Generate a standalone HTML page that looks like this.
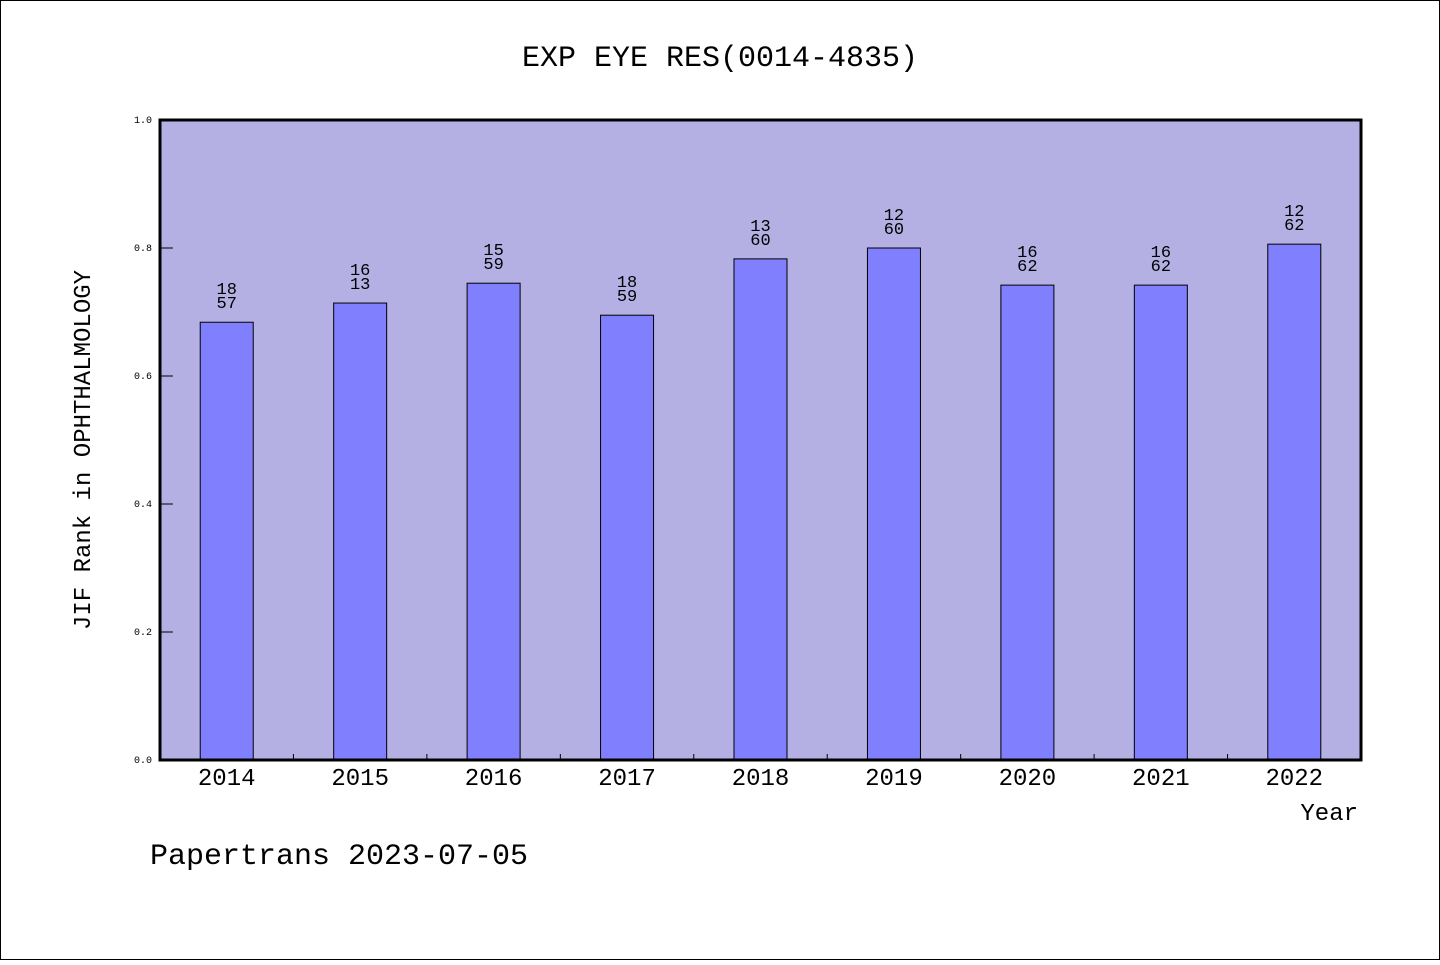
<!DOCTYPE html>
<html><head><meta charset="utf-8"><style>
body{margin:0;background:#fff;}
svg text{font-family:"WenQuanYi Zen Hei","Liberation Mono",monospace;fill:#000;}
</style></head><body>
<svg width="1440" height="960" xmlns="http://www.w3.org/2000/svg">
<rect x="0.5" y="0.5" width="1439" height="959" fill="#fff" stroke="#000"/>
<text x="720" y="66" font-size="30" text-anchor="middle">EXP EYE RES(0014-4835)</text>
<rect x="160" y="120" width="1201" height="640" fill="#b5b0e3"/>
<g id="yticks"></g>
<g id="bars"></g>
<rect x="160" y="120" width="1201" height="640" fill="none" stroke="#000" stroke-width="3"/>
<g id="xticks"></g>
<text x="90" y="450" font-size="24" text-anchor="middle" transform="rotate(-90 90 450)">JIF Rank in OPHTHALMOLOGY</text>
<text x="1358" y="820" font-size="24" text-anchor="end">Year</text>
<text x="150" y="864" font-size="30">Papertrans 2023-07-05</text>
</svg>
<script>
const years=["2014","2015","2016","2017","2018","2019","2020","2021","2022"];
const values=[0.684,0.714,0.745,0.695,0.783,0.800,0.742,0.742,0.806];
const rankTop=["18","16","15","18","13","12","16","16","12"];
const rankBottom=["57","13","59","59","60","60","62","62","62"];
const yTicks=[0,0.2,0.4,0.6,0.8,1.0];
const NS="http://www.w3.org/2000/svg";
const x0=160,x1=1361,y0=760,y1=120;
const band=(x1-x0)/years.length;
const yS=v=>y0-(v)*(y0-y1);
const xC=i=>x0+band*(i+0.5);
function mk(t,a,p){const e=document.createElementNS(NS,t);for(const k in a)e.setAttribute(k,a[k]);p.appendChild(e);return e;}
const yt=document.getElementById('yticks');
yTicks.forEach(v=>{
 const l=mk('line',{x1:160,x2:173,y1:yS(v),y2:yS(v),stroke:'#000'},yt);
 
 
 const t=mk('text',{x:152,y:yS(v)+3,'font-size':10,'text-anchor':'end'},yt);
 t.textContent=v.toFixed(1);
 
 
});
const bg=document.getElementById('bars');
values.forEach((v,i)=>{
 const w=53,cx=xC(i);
 const r=mk('rect',{x:cx-w/2,y:yS(v),width:w,height:y0-yS(v),fill:'#8080ff',stroke:'#000','stroke-width':1},bg);
 
 
 const a=mk('text',{x:cx,y:yS(v)-28,'font-size':17,'text-anchor':'middle'},bg);
 a.textContent=rankTop[i];
 
 
 const b=mk('text',{x:cx,y:yS(v)-14,'font-size':17,'text-anchor':'middle'},bg);
 b.textContent=rankBottom[i];
 
 
});
const xt=document.getElementById('xticks');
years.forEach((y,i)=>{
 if(i>0){const l=mk('line',{x1:x0+band*i,x2:x0+band*i,y1:754,y2:760,stroke:'#000'},xt);
 
 }
 const t=mk('text',{x:xC(i),y:785,'font-size':24,'text-anchor':'middle'},xt);
 t.textContent=y;
 
 
});
</script>
</body></html>
